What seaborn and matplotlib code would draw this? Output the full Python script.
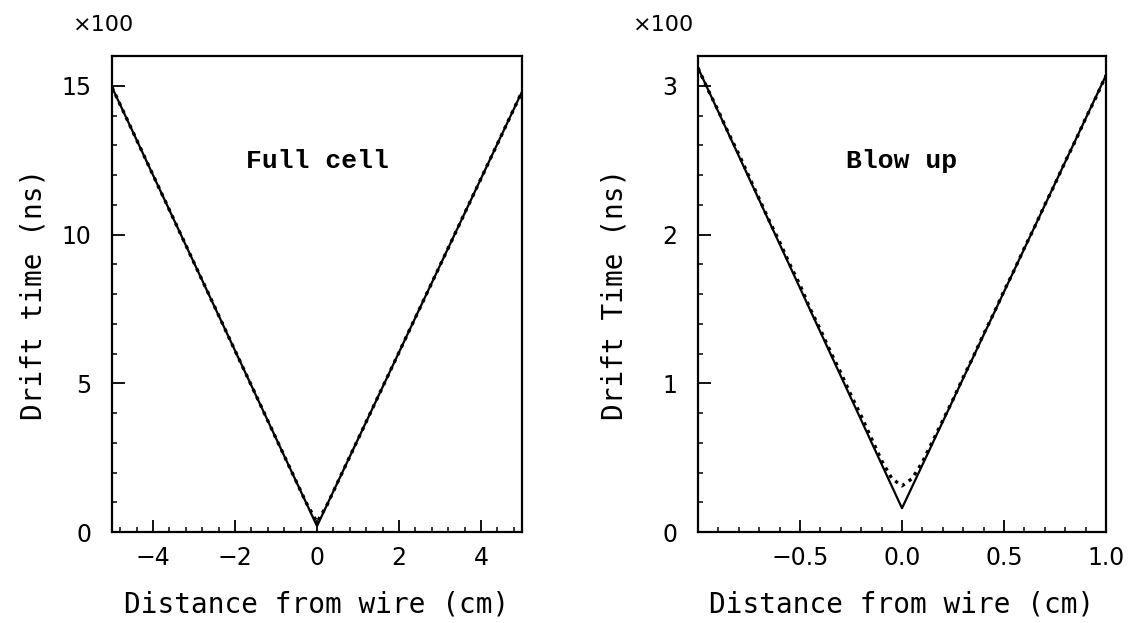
import numpy as np
import pandas as pd
import matplotlib
matplotlib.use("Agg")
import matplotlib.pyplot as plt
from matplotlib.ticker import MultipleLocator, FixedLocator
import seaborn as sns

# ---------------- data ----------------
# Full cell: fitted curve (solid) and measured points (dotted)
full_fit_x = [-5.0, 0.0, 5.0]
full_fit_y = [14.95, 0.2, 14.8]
full_pts_x = [-5.0, -4.5, -4.0, -3.5, -3.0, -2.5, -2.0, -1.5, -1.0, -0.5, -0.25,
              0.0, 0.25, 0.5, 1.0, 1.5, 2.0, 2.5, 3.0, 3.5, 4.0, 4.5, 5.0]
full_pts_y = [14.95, 13.48, 12.0, 10.53, 9.05, 7.58, 6.1, 4.63, 3.15, 1.68, 0.95,
              0.33, 0.92, 1.66, 3.12, 4.58, 6.04, 7.5, 8.96, 10.42, 11.88, 13.34, 14.8]

# Blow up: fitted curve (solid) and measured points (dotted)
blow_fit_x = [-1.0, 0.0, 1.0]
blow_fit_y = [3.12, 0.16, 3.07]
blow_pts_x = [-1.0, -0.95, -0.9, -0.85, -0.8, -0.75, -0.7, -0.65, -0.6, -0.55, -0.5,
              -0.45, -0.4, -0.35, -0.3, -0.25, -0.2, -0.15, -0.1, -0.05, 0.0,
              0.05, 0.1, 0.15, 0.2, 0.25, 0.3, 0.35, 0.4, 0.45, 0.5,
              0.55, 0.6, 0.65, 0.7, 0.75, 0.8, 0.85, 0.9, 0.95, 1.0]
blow_pts_y = [3.12, 2.97, 2.83, 2.68, 2.54, 2.39, 2.24, 2.09, 1.95, 1.80, 1.66,
              1.50, 1.36, 1.21, 1.07, 0.92, 0.78, 0.63, 0.48, 0.36, 0.31,
              0.36, 0.47, 0.61, 0.75, 0.89, 1.04, 1.18, 1.33, 1.47, 1.62,
              1.76, 1.91, 2.05, 2.20, 2.34, 2.49, 2.63, 2.78, 2.92, 3.07]

titles = ["Full cell", "Blow up"]
ylabels = ["Drift time (ns)", "Drift Time (ns)"]
xlabel = "Distance from wire (cm)"
left_xticks = [-4, -2, 0, 2, 4]
left_yticks = [0, 5, 10, 15]
right_xticks = [-0.5, 0.0, 0.5, 1.0]
right_yticks = [0, 1, 2, 3]

# ---------------- style ----------------
sns.set_style("ticks")
plt.rcParams['font.family'] = ['DejaVu Sans']
plt.rcParams['text.color'] = 'black'
plt.rcParams['axes.labelcolor'] = 'black'
plt.rcParams['xtick.color'] = 'black'
plt.rcParams['ytick.color'] = 'black'

fig = plt.figure(figsize=(11.34, 6.23), dpi=100)
W, H = 1134, 623
axL = fig.add_axes([112 / W, 1 - 532 / H, (522 - 112) / W, (532 - 56) / H])
axR = fig.add_axes([698 / W, 1 - 532 / H, (1106 - 698) / W, (532 - 56) / H])

df_full_fit = pd.DataFrame({"x": full_fit_x, "y": full_fit_y})
df_full_pts = pd.DataFrame({"x": full_pts_x, "y": full_pts_y})
df_blow_fit = pd.DataFrame({"x": blow_fit_x, "y": blow_fit_y})
df_blow_pts = pd.DataFrame({"x": blow_pts_x, "y": blow_pts_y})

sns.lineplot(data=df_full_fit, x="x", y="y", ax=axL, color="black", lw=1.6,
             sort=False, estimator=None)
sns.lineplot(data=df_full_pts, x="x", y="y", ax=axL, color="black", lw=2.4,
             linestyle=(0, (1, 1.5)), sort=False, estimator=None)
sns.lineplot(data=df_blow_fit, x="x", y="y", ax=axR, color="black", lw=1.6,
             sort=False, estimator=None)
sns.lineplot(data=df_blow_pts, x="x", y="y", ax=axR, color="black", lw=2.4,
             linestyle=(0, (1, 1.5)), sort=False, estimator=None)

axL.set_xlim(-5, 5)
axL.set_ylim(0, 16)
axR.set_xlim(-1, 1)
axR.set_ylim(0, 3.2)

axL.xaxis.set_major_locator(FixedLocator(left_xticks))
axL.xaxis.set_minor_locator(MultipleLocator(0.4))
axL.yaxis.set_major_locator(FixedLocator(left_yticks))
axL.yaxis.set_minor_locator(MultipleLocator(1))
axR.xaxis.set_major_locator(FixedLocator(right_xticks))
axR.xaxis.set_minor_locator(MultipleLocator(0.1))
axR.yaxis.set_major_locator(FixedLocator(right_yticks))
axR.yaxis.set_minor_locator(MultipleLocator(0.2))

axL.set_xticklabels([f"{v:d}".replace("-", "\u2212") for v in left_xticks])
axL.set_yticklabels([str(v) for v in left_yticks])
axR.set_xticklabels([f"{v:.1f}".replace("-", "\u2212") for v in right_xticks])
axR.set_yticklabels([str(v) for v in right_yticks])

ylab_x = [(34 - 112) / 410, (615 - 698) / 408]
for ax, t, yl, lx in zip([axL, axR], titles, ylabels, ylab_x):
    for s in ax.spines.values():
        s.set_visible(True)
        s.set_linewidth(1.6)
        s.set_color("black")
    ax.tick_params(which="major", direction="in", length=9, width=1.3,
                   labelsize=17, top=False, right=False, color="black",
                   labelcolor="black")
    ax.tick_params(which="minor", direction="in", length=3.5, width=1.1,
                   top=False, right=False, color="black")
    ax.tick_params(axis="x", which="major", pad=10)
    ax.tick_params(axis="y", which="major", pad=15)
    ax.set_xlabel(xlabel, fontsize=20, family="DejaVu Sans Mono")
    ax.set_ylabel(yl, fontsize=20, family="DejaVu Sans Mono")
    ax.xaxis.set_label_coords(0.5, (532 - 604) / 476)
    ax.yaxis.set_label_coords(lx, 0.5)
    ax.xaxis.label.set_va("center")
    ax.yaxis.label.set_va("center")
    ax.text(0.5, 0.78, t, transform=ax.transAxes, ha="center", va="center",
            fontsize=19, family="Liberation Mono", fontweight="bold")

fig.text(73 / W, 1 - 25 / H, "\u00d7100", fontsize=16, ha="left", va="center")
fig.text(633 / W, 1 - 25 / H, "\u00d7100", fontsize=16, ha="left", va="center")

fig.savefig("out.png", dpi=100)
